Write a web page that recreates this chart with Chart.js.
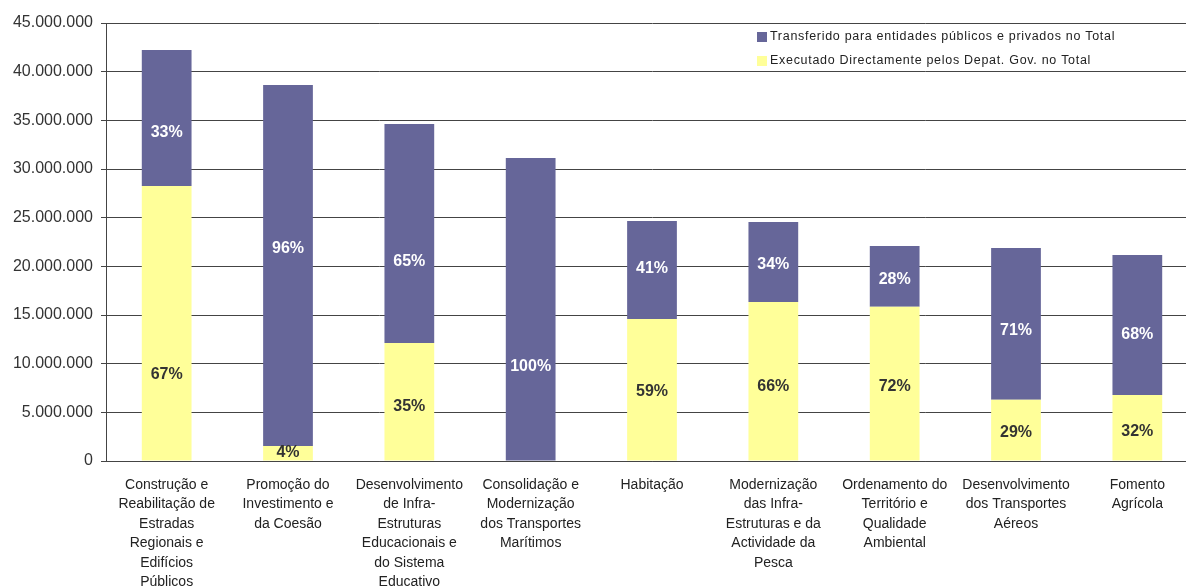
<!DOCTYPE html>
<html>
<head>
<meta charset="utf-8">
<script src="https://cdn.jsdelivr.net/npm/chart.js@4"></script>
<style>
  body { margin: 0; overflow: hidden; background: #fff; }
</style>
</head>
<body>
<canvas id="chart" width="1198" height="587"></canvas>
<script>
const categorias = [
  ['Construção e', 'Reabilitação de', 'Estradas', 'Regionais e', 'Edifícios', 'Públicos'],
  ['Promoção do', 'Investimento e', 'da Coesão'],
  ['Desenvolvimento', 'de Infra-', 'Estruturas', 'Educacionais e', 'do Sistema', 'Educativo'],
  ['Consolidação e', 'Modernização', 'dos Transportes', 'Marítimos'],
  ['Habitação'],
  ['Modernização', 'das Infra-', 'Estruturas e da', 'Actividade da', 'Pesca'],
  ['Ordenamento do', 'Território e', 'Qualidade', 'Ambiental'],
  ['Desenvolvimento', 'dos Transportes', 'Aéreos'],
  ['Fomento', 'Agrícola']
]

// valores
const executado = [28250000, 1540000, 12120000, 0, 14590000, 16340000, 15850000, 6300000, 6780000]
const transferido = [13980000, 37090000, 22500000, 31130000, 10070000, 8220000, 6240000, 15580000, 14390000]

const pctExecutado = ['67%', '4%', '35%', '', '59%', '66%', '72%', '29%', '32%']
const pctTransferido = ['33%', '96%', '65%', '100%', '41%', '34%', '28%', '71%', '68%']

const corTransferido = '#666699'
const corExecutado = '#FFFF99'

// os rotulos no original nao estao bem no centro do segmento
const deslocExecutado = [51, -1, 5, 0, 2, 5, 3, 3, 4]
const deslocTransferido = [15, -17, 28, 57, -1, 3, 3, 7, 10]

const pctLabels = {
  id: 'pctLabels',
  afterDatasetsDraw(chart) {
    const ctx = chart.ctx
    ctx.save()
    ctx.font = 'bold 16px "Liberation Sans", Arial, sans-serif'
    ctx.textAlign = 'center'
    ctx.textBaseline = 'middle'
    chart.data.datasets.forEach((ds, i) => {
      const meta = chart.getDatasetMeta(i)
      meta.data.forEach((bar, j) => {
        const txt = ds.pct[j]
        if (!txt) return
        ctx.fillStyle = ds.pctColor
        ctx.fillText(txt, bar.x, (bar.y + bar.base) / 2 + ds.pctShift[j])
      })
    })
    ctx.restore()
  }
}

const legendaDentro = {
  id: 'legendaDentro',
  afterDraw(chart) {
    const ctx = chart.ctx
    const items = [chart.data.datasets[1], chart.data.datasets[0]]
    ctx.save()
    ctx.font = '12.5px "Liberation Sans", Arial, sans-serif'
    ctx.letterSpacing = '0.7px'
    ctx.textBaseline = 'middle'
    items.forEach((ds, i) => {
      const y = 37 + i * 24
      ctx.fillStyle = ds.backgroundColor
      ctx.fillRect(757, y - 5, 10, 10)
      ctx.fillStyle = '#222'
      ctx.fillText(ds.label, 770, y)
    })
    ctx.restore()
  }
}

const data = {
  labels: categorias,
  datasets: [{
    label: 'Executado Directamente pelos Depat. Gov. no Total',
    data: executado,
    backgroundColor: corExecutado,
    pct: pctExecutado,
    pctShift: deslocExecutado,
    pctColor: '#333'
  },
  {
    label: 'Transferido para entidades públicos e privados no Total',
    data: transferido,
    backgroundColor: corTransferido,
    pct: pctTransferido,
    pctShift: deslocTransferido,
    pctColor: '#fff'
  }]
}

const config = {
  type: 'bar',
  data: data,
  options: {
    responsive: false,
    animation: false,
    layout: {
      padding: { top: 23, right: 0, left: 0, bottom: 0 }
    },
    datasets: {
      bar: {
        categoryPercentage: 1,
        barPercentage: 0.41
      }
    },
    plugins: {
      legend: { display: false },
      tooltip: { enabled: false }
    },
    scales: {
      x: {
        stacked: true,
        grid: { display: false },
        border: { display: true, color: '#444', width: 1 },
        ticks: {
          maxRotation: 0,
          autoSkip: false,
          padding: 6,
          color: '#222',
          font: { family: '"Liberation Sans", Arial, sans-serif', size: 14, lineHeight: '19.5px' }
        },
        afterFit: (scale) => { scale.height = 126 }
      },
      y: {
        stacked: true,
        min: 0,
        max: 45000000,
        grid: { color: '#444', lineWidth: 1, tickLength: 5 },
        border: { display: true, color: '#444', width: 1 },
        ticks: {
          stepSize: 5000000,
          padding: 8,
          color: '#333',
          font: { family: '"Liberation Sans", Arial, sans-serif', size: 16 },
          callback: function (value) {
            return value.toString().replace(/\B(?=(\d{3})+(?!\d))/g, '.')
          }
        },
        afterFit: (scale) => { scale.width = 106 }
      }
    }
  },
  plugins: [pctLabels, legendaDentro]
}

const chartElement = document.getElementById('chart').getContext('2d')
const chart = new Chart(chartElement, config)
</script>
</body>
</html>
